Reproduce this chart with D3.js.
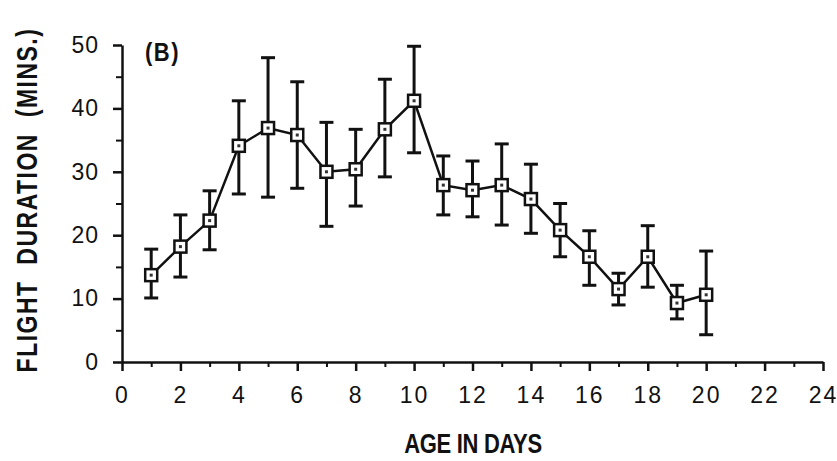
<!DOCTYPE html>
<html>
<head>
<meta charset="utf-8">
<script src="https://cdn.jsdelivr.net/npm/d3@7"></script>
<style>
  body { margin: 0; background: #fff; }
  text { font-family: "Liberation Sans", Arial, sans-serif; fill: #111; }
</style>
</head>
<body>
<div class="chart"></div>
<script>
// data
var days  = [1, 2, 3, 4, 5, 6, 7, 8, 9, 10, 11, 12, 13, 14, 15, 16, 17, 18, 19, 20];
var means = [13.7, 18.2, 22.3, 34.1, 36.9, 35.8, 30.0, 30.4, 36.7, 41.2, 27.9, 27.1, 27.9, 25.7, 20.8, 16.6, 11.5, 16.6, 9.3, 10.6];
var lows  = [10.1, 13.4, 17.7, 26.5, 26.0, 27.4, 21.4, 24.6, 29.2, 33.0, 23.2, 22.9, 21.6, 20.3, 16.6, 12.1, 9.0, 11.8, 6.8, 4.3];
var highs = [17.8, 23.2, 27.0, 41.2, 48.0, 44.2, 37.8, 36.7, 44.6, 49.8, 32.5, 31.7, 34.4, 31.2, 25.0, 20.7, 14.0, 21.5, 12.1, 17.5];
var xTicks = [0, 2, 4, 6, 8, 10, 12, 14, 16, 18, 20, 22, 24];
var yTicks = [0, 10, 20, 30, 40, 50];

var svgWidth = 837;
var svgHeight = 461;

var margin = { top: 45, right: 14, bottom: 99, left: 122 };
var width = svgWidth - margin.left - margin.right;
var height = svgHeight - margin.top - margin.bottom;

var svg = d3.select(".chart")
    .append("svg")
    .attr("width", svgWidth)
    .attr("height", svgHeight);

var chartGroup = svg.append("g")
    .attr("transform", `translate(${margin.left}, ${margin.top})`);

var x = d3.scaleLinear().domain([0, 24]).range([0, width]);
var y = d3.scaleLinear().domain([0, 50]).range([height, 0]);

// minor ticks (odd days / every 5 mins)
var xMinor = d3.range(1, 24, 2);
var yMinor = d3.range(5, 50, 10);

chartGroup.append("g")
    .attr("transform", `translate(0, ${height})`)
    .call(d3.axisBottom(x).tickValues(xMinor).tickSize(5).tickFormat(""))
    .call(g => g.select(".domain").remove())
    .selectAll("line").attr("stroke-width", 2).attr("stroke", "#111");

chartGroup.append("g")
    .call(d3.axisLeft(y).tickValues(yMinor).tickSize(6).tickFormat(""))
    .call(g => g.select(".domain").remove())
    .selectAll("line").attr("stroke-width", 2).attr("stroke", "#111");

// x axis
var xAxis = chartGroup.append("g")
    .attr("transform", `translate(0, ${height})`)
    .call(d3.axisBottom(x).tickValues(xTicks).tickSize(9).tickSizeOuter(0).tickPadding(16));
xAxis.select(".domain").attr("stroke-width", 2.5).attr("stroke", "#111");
xAxis.selectAll("line").attr("stroke-width", 2.5).attr("stroke", "#111");
xAxis.selectAll("text")
    .style("font-size", "23px")
    .style("letter-spacing", "2px")
    .attr("fill", "#111");

// y axis
var yAxis = chartGroup.append("g")
    .call(d3.axisLeft(y).tickValues(yTicks).tickSize(9).tickSizeOuter(0).tickPadding(14));
yAxis.select(".domain").attr("stroke-width", 2.5).attr("stroke", "#111");
yAxis.selectAll("line").attr("stroke-width", 2.5).attr("stroke", "#111");
yAxis.selectAll("text")
    .style("font-size", "23px")
    .style("letter-spacing", "1px")
    .attr("fill", "#111");

var data = days.map((d, i) => ({ day: d, mean: means[i], low: lows[i], high: highs[i] }));

// error bars
var bars = chartGroup.append("g").attr("stroke", "#111").attr("stroke-width", 3);
bars.selectAll(".eb")
    .data(data)
    .enter()
    .append("line")
    .attr("x1", d => x(d.day))
    .attr("x2", d => x(d.day))
    .attr("y1", d => y(d.low))
    .attr("y2", d => y(d.high));

bars.selectAll(".capTop")
    .data(data)
    .enter()
    .append("line")
    .attr("x1", d => x(d.day) - 7)
    .attr("x2", d => x(d.day) + 7)
    .attr("y1", d => y(d.high))
    .attr("y2", d => y(d.high));

bars.selectAll(".capBot")
    .data(data)
    .enter()
    .append("line")
    .attr("x1", d => x(d.day) - 7)
    .attr("x2", d => x(d.day) + 7)
    .attr("y1", d => y(d.low))
    .attr("y2", d => y(d.low));

// connecting line
var line = d3.line()
    .x(d => x(d.day))
    .y(d => y(d.mean));

chartGroup.append("path")
    .datum(data)
    .attr("d", line)
    .attr("fill", "none")
    .attr("stroke", "#111")
    .attr("stroke-width", 2.5);

// square markers
chartGroup.selectAll(".marker")
    .data(data)
    .enter()
    .append("rect")
    .attr("x", d => x(d.day) - 6)
    .attr("y", d => y(d.mean) - 6)
    .attr("width", 12)
    .attr("height", 12)
    .attr("fill", "#fff")
    .attr("stroke", "#111")
    .attr("stroke-width", 2.5);

chartGroup.selectAll(".dot")
    .data(data)
    .enter()
    .append("rect")
    .attr("x", d => x(d.day) - 1.5)
    .attr("y", d => y(d.mean) - 1.5)
    .attr("width", 3)
    .attr("height", 3)
    .attr("fill", "#333");

// panel label
chartGroup.append("text")
    .attr("transform", "translate(23, 16) scale(1, 1.15)")
    .style("font-size", "22px")
    .style("font-weight", "bold")
    .style("letter-spacing", "1.5px")
    .text("(B)");

// axis titles (slightly stretched, the original type is tall and narrow)
svg.append("text")
    .attr("transform", "translate(473, 453) scale(1, 1.25)")
    .attr("text-anchor", "middle")
    .style("font-size", "22px")
    .style("font-weight", "bold")
    .style("letter-spacing", "-0.3px")
    .text("AGE IN DAYS");

svg.append("text")
    .attr("transform", "translate(37, 200) rotate(-90) scale(1, 1.25)")
    .attr("text-anchor", "middle")
    .style("font-size", "23px")
    .style("font-weight", "bold")
    .style("letter-spacing", "1.5px")
    .style("white-space", "pre")
    .text("FLIGHT  DURATION  (MINS.)");
</script>
</body>
</html>
